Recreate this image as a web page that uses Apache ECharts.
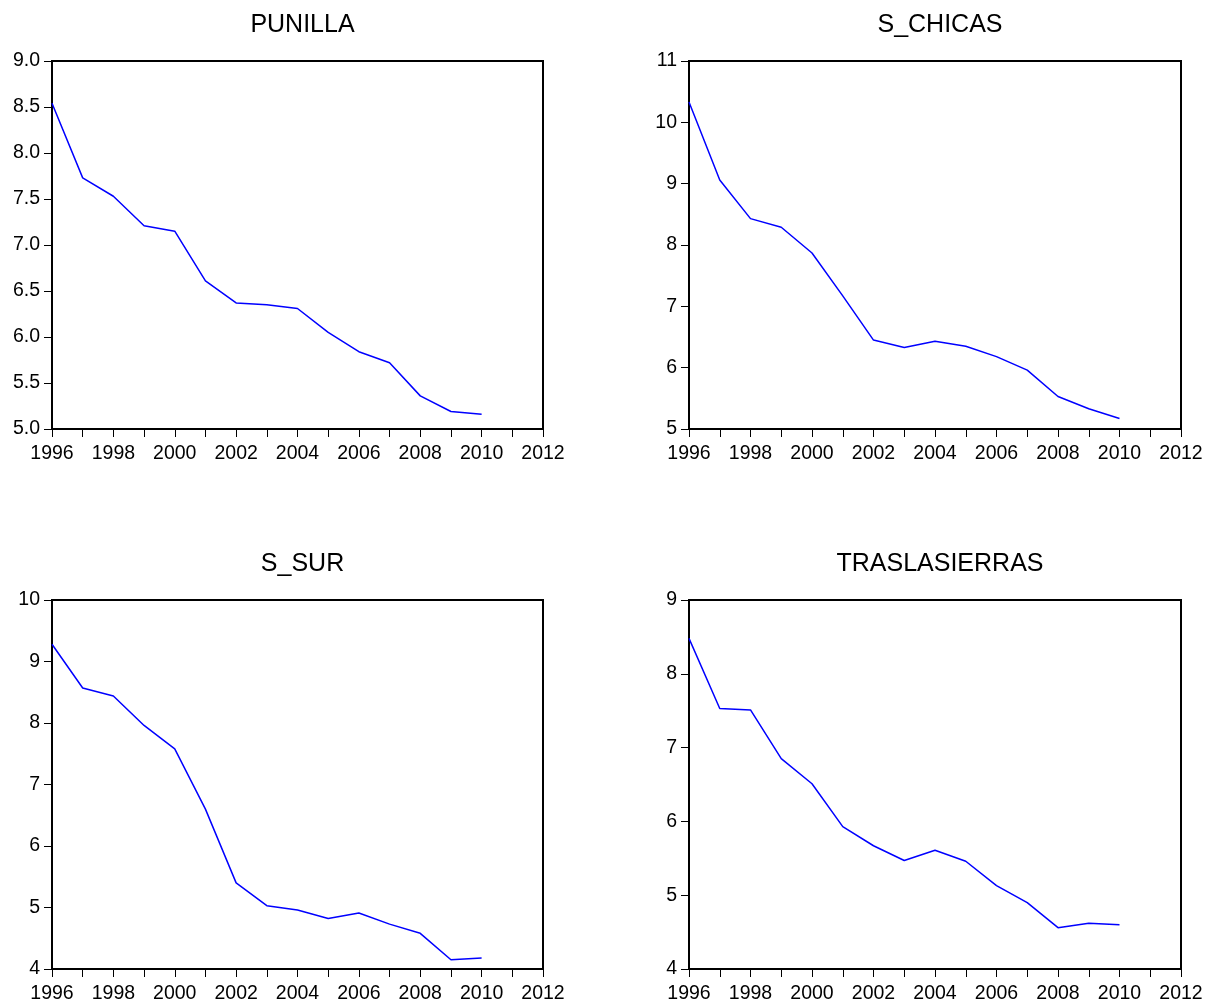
<!DOCTYPE html>
<html>
<head>
<meta charset="utf-8">
<script src="https://cdn.jsdelivr.net/npm/echarts@6/dist/echarts.min.js"></script>
<style>
  html, body { margin: 0; padding: 0; background: #fff; }
  #chart { width: 1207px; height: 1004px; }
</style>
</head>
<body>
<div id="chart"></div>
<script>
// Annual series by region, 1996-2010
const years = [1996, 1997, 1998, 1999, 2000, 2001, 2002, 2003, 2004, 2005, 2006, 2007, 2008, 2009, 2010];

const punilla = [8.54, 7.73, 7.53, 7.21, 7.15, 6.61, 6.37, 6.35, 6.31, 6.05, 5.84, 5.72, 5.36, 5.19, 5.16];
const sChicas = [10.33, 9.06, 8.43, 8.29, 7.87, 7.17, 6.45, 6.33, 6.43, 6.35, 6.18, 5.96, 5.53, 5.33, 5.17];
const sSur = [9.28, 8.57, 8.44, 7.96, 7.58, 6.60, 5.40, 5.03, 4.96, 4.82, 4.91, 4.73, 4.58, 4.15, 4.18];
const traslasierras = [8.48, 7.53, 7.51, 6.85, 6.51, 5.93, 5.67, 5.47, 5.61, 5.46, 5.13, 4.90, 4.56, 4.62, 4.60];

const titles = ['PUNILLA', 'S_CHICAS', 'S_SUR', 'TRASLASIERRAS'];
const seriesData = [punilla, sChicas, sSur, traslasierras];
const yRanges = [
  { min: 5, max: 9, interval: 0.5, digits: 1 },
  { min: 5, max: 11, interval: 1, digits: 0 },
  { min: 4, max: 10, interval: 1, digits: 0 },
  { min: 4, max: 9, interval: 1, digits: 0 }
];

const grids = [
  { left: 52, top: 61, width: 491, height: 368 },
  { left: 689, top: 61, width: 492, height: 368 },
  { left: 52, top: 600, width: 491, height: 369 },
  { left: 689, top: 600, width: 492, height: 369 }
];

const FONT = 'Liberation Sans, Arial, sans-serif';
const TICK_FONT_SIZE = 19.5;

const option = {
  backgroundColor: '#fff',
  animation: false,
  title: grids.map((g, i) => ({
    text: titles[i],
    left: g.left + g.width / 2,
    top: g.top - 53,
    textAlign: 'center',
    textStyle: { fontFamily: FONT, fontSize: 25, fontWeight: 'normal', color: '#000' }
  })),
  grid: grids.map(g => Object.assign({
    show: true, borderColor: '#000', borderWidth: 2, backgroundColor: '#fff'
  }, g)),
  xAxis: grids.map((g, i) => ({
    type: 'value',
    gridIndex: i,
    min: 1996,
    max: 2012,
    interval: 1,
    axisLine: { show: true, onZero: false, lineStyle: { color: '#000', width: 2 } },
    axisTick: { show: true, inside: false, length: 8, lineStyle: { color: '#000', width: 1 } },
    axisLabel: {
      margin: 15,
      fontFamily: FONT, fontSize: TICK_FONT_SIZE, color: '#000',
      formatter: v => (v % 2 === 0 ? String(v) : '')
    },
    splitLine: { show: false }
  })),
  yAxis: grids.map((g, i) => ({
    type: 'value',
    gridIndex: i,
    min: yRanges[i].min,
    max: yRanges[i].max,
    interval: yRanges[i].interval,
    axisLine: { show: true, onZero: false, lineStyle: { color: '#000', width: 2 } },
    axisTick: { show: true, inside: false, length: 8, lineStyle: { color: '#000', width: 1 } },
    axisLabel: {
      margin: 12,
      fontFamily: FONT, fontSize: TICK_FONT_SIZE, color: '#000',
      formatter: v => v.toFixed(yRanges[i].digits)
    },
    splitLine: { show: false }
  })),
  series: seriesData.map((d, i) => ({
    type: 'line',
    xAxisIndex: i,
    yAxisIndex: i,
    data: years.map((y, k) => [y, d[k]]),
    showSymbol: false,
    symbol: 'none',
    lineStyle: { color: '#0000ff', width: 1.5 }
  }))
};

const chart = echarts.init(document.getElementById('chart'), null, { renderer: 'canvas' });
chart.setOption(option);
</script>
</body>
</html>
